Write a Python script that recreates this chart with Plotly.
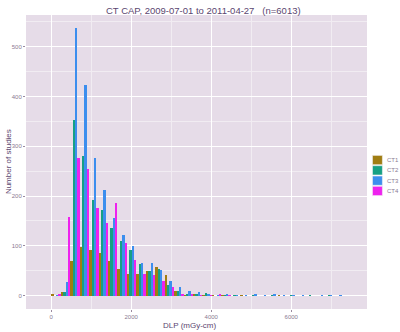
import plotly.graph_objects as go

# ---- data ----
bin_centers = [124, 360, 596, 832, 1068, 1304, 1540, 1776, 2012, 2248, 2484,
               2720, 2956, 3192, 3428, 3664, 3900, 4136, 4372, 4608, 4844,
               5080, 5316, 5552, 5788, 6024, 6260, 6496, 6732, 6968, 7204]
series_names = ["CT1", "CT2", "CT3", "CT4"]
ct1 = [2, 7, 69, 97, 91, 86, 69, 53, 44, 43, 49, 58, 41, 9, 1, 4, 1, 1,
       1, 0, 1, 0, 0, 0, 1, 0, 0, 0, 0, 0, 0]
ct2 = [0, 7, 352, 281, 193, 173, 136, 109, 92, 63, 49, 54, 22, 9, 4, 4, 6, 0,
       1, 1, 0, 1, 0, 1, 0, 1, 0, 1, 0, 1, 0]
ct3 = [1, 27, 537, 423, 277, 212, 156, 121, 99, 66, 65, 51, 30, 18, 9, 7, 2, 1,
       2, 1, 1, 2, 1, 2, 1, 1, 1, 0, 1, 1, 1]
ct4 = [3, 158, 277, 255, 177, 146, 186, 105, 72, 44, 41, 30, 17, 4, 2, 1, 1, 2,
       1, 0, 0, 0, 0, 0, 0, 0, 0, 0, 0, 0, 0]
series_values = [ct1, ct2, ct3, ct4]
colors = ["#A07D12", "#16A084", "#3C8EEE", "#EE22EE"]

x_ticks = [0, 2000, 4000, 6000]
y_ticks = [0, 100, 200, 300, 400, 500]

title_text = "CT CAP, 2009-07-01 to 2011-04-27   (n=6013)"
x_title = "DLP (mGy-cm)"
y_title = "Number of studies"

# ---- layout constants (pixels) ----
W, H = 400, 332
L, R, T, B = 24, 33, 15, 23
pw, ph = W - L - R, H - T - B

title_col = "#5B4670"
tick_col = "#8A7A92"
panel_bg = "#E6DCE8"
font_family = "Liberation Sans, Arial, sans-serif"

fig = go.Figure()
for name, vals, col in zip(series_names, series_values, colors):
    fig.add_trace(go.Bar(x=bin_centers, y=vals, name=name,
                         marker=dict(color=col, line=dict(width=0)),
                         showlegend=False))

fig.update_layout(
    width=W, height=H,
    margin=dict(l=L, r=R, t=T, b=B, pad=0),
    barmode="group", bargap=0, bargroupgap=0,
    paper_bgcolor="white", plot_bgcolor=panel_bg,
    font=dict(family=font_family, color=tick_col, size=6),
)
fig.update_xaxes(
    range=[-628, 7893], tickvals=x_ticks, ticks="outside", ticklen=2,
    tickcolor="#9A8AA0", tickwidth=0.6,
    tickfont=dict(size=6, color=tick_col),
    showgrid=True, gridcolor="white", gridwidth=1, zeroline=False,
    minor=dict(dtick=1000, tick0=1000, showgrid=True, gridcolor="#F1ECF2", gridwidth=0.6),
    showline=False,
)
fig.update_yaxes(
    range=[-26.85, 563.85], tickvals=y_ticks, ticks="outside", ticklen=2,
    tickcolor="#9A8AA0", tickwidth=0.6,
    tickfont=dict(size=6, color=tick_col),
    showgrid=True, gridcolor="white", gridwidth=1, zeroline=False,
    minor=dict(dtick=50, tick0=50, showgrid=True, gridcolor="#F1ECF2", gridwidth=0.6),
    showline=False,
)

def px_to_paper_x(px):
    return (px - L) / pw

def px_to_paper_y(py):
    return (H - B - py) / ph

annotations = [
    dict(text=title_text, xref="paper", yref="paper",
         x=px_to_paper_x(203), y=px_to_paper_y(10), xanchor="center", yanchor="middle",
         showarrow=False, font=dict(size=9.5, color=title_col, family=font_family)),
    dict(text=x_title, xref="paper", yref="paper",
         x=px_to_paper_x(189), y=px_to_paper_y(325), xanchor="center", yanchor="middle",
         showarrow=False, font=dict(size=8, color=title_col, family=font_family)),
    dict(text=y_title, xref="paper", yref="paper", textangle=-90,
         x=px_to_paper_x(6), y=px_to_paper_y(162), xanchor="center", yanchor="middle",
         showarrow=False, font=dict(size=8, color=title_col, family=font_family)),
]

# legend (drawn as key boxes + labels, ggplot style)
shapes = []
key_top = 155
key_h = 10.3
for i, (name, col) in enumerate(zip(series_names, colors)):
    y0 = key_top + i * key_h
    shapes.append(dict(type="rect", xref="paper", yref="paper",
                       x0=px_to_paper_x(372.5), x1=px_to_paper_x(382.5),
                       y0=px_to_paper_y(y0 + key_h - 0.6), y1=px_to_paper_y(y0 + 0.4),
                       fillcolor=col, line=dict(width=0.6, color="#F4F0F4")))
    annotations.append(dict(text=name, xref="paper", yref="paper",
                            x=px_to_paper_x(385), y=px_to_paper_y(y0 + key_h / 2),
                            xanchor="left", yanchor="middle", showarrow=False,
                            font=dict(size=6, color=tick_col, family=font_family)))

fig.update_layout(annotations=annotations, shapes=shapes)
fig.write_html("out.html")
